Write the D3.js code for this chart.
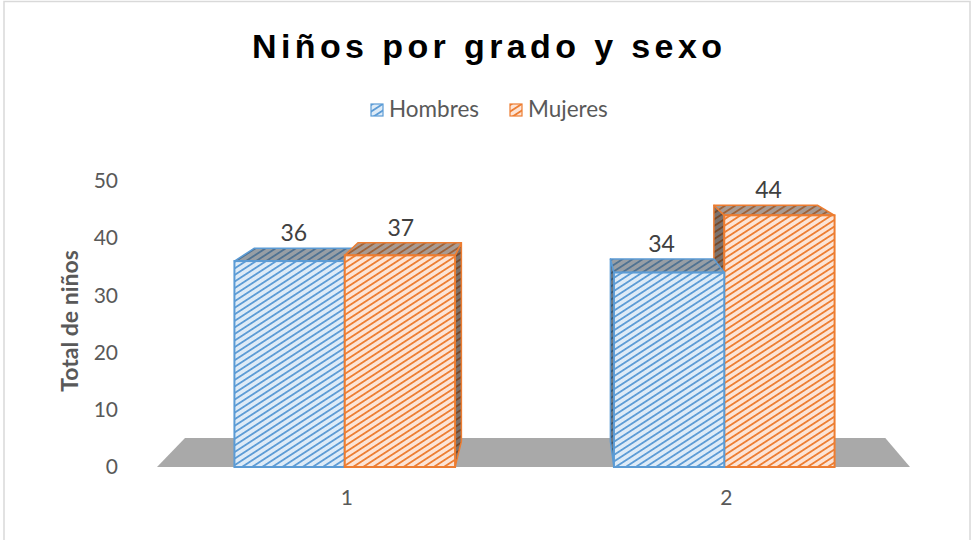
<!DOCTYPE html>
<html>
<head>
<meta charset="utf-8">
<script src="https://cdn.jsdelivr.net/npm/d3@7"></script>
<style>
  body { margin: 0; background: #fff; }
  svg { display: block; }
</style>
</head>
<body>
<script>
// chart values
var categories = ["1", "2"];
var series = ["Hombres", "Mujeres"];
var hombres = [36, 34];
var mujeres = [37, 44];
var yTicks = [0, 10, 20, 30, 40, 50];

var width = 972, height = 540;
var colors = { Hombres: "#5b9bd5", Mujeres: "#ed7d31" };
var lightColors = { Hombres: "#deebf7", Mujeres: "#fce4d6" };

// perspective: vanishing point and how far the back plane shrinks toward it
var vp = [557, 53];
var floorScale = 0.93, barScale = 0.938;

function proj(p, s) {
    return [vp[0] + s * (p[0] - vp[0]), vp[1] + s * (p[1] - vp[1])];
}

var svg = d3.select("body").append("svg")
    .attr("width", width)
    .attr("height", height);

// patterns for the hatched bars
var defs = svg.append("defs");
series.forEach(function(name) {
    var pat = defs.append("pattern")
        .attr("id", "hatch-" + name)
        .attr("patternUnits", "userSpaceOnUse")
        .attr("width", 6).attr("height", 5.5)
        .attr("patternTransform", "rotate(-33)");
    pat.append("rect").attr("width", 6).attr("height", 5.5).attr("fill", lightColors[name]);
    pat.append("rect").attr("y", 0).attr("width", 6).attr("height", 1.8).attr("fill", colors[name]);
});

// chart border
svg.append("rect")
    .attr("x", 4).attr("y", 1.5)
    .attr("width", 966).attr("height", 545)
    .attr("fill", "none").attr("stroke", "#d9d9d9").attr("stroke-width", 1.5);

// scales
var y = d3.scaleLinear().domain([0, 50]).range([467, 181]);
var x0 = d3.scaleBand().domain(categories).range([155, 914]);
var x1 = d3.scaleBand().domain(series).range([0, x0.bandwidth()]).paddingOuter(0.72);

// title
svg.append("text")
    .attr("x", 252).attr("y", 58)
    .attr("textLength", 470).attr("lengthAdjust", "spacing")
    .style("font-family", "'Liberation Sans', Arial, sans-serif")
    .style("font-weight", "bold").style("font-size", "34px")
    .attr("fill", "#000")
    .text("Niños por grado y sexo");

// legend
var legendX = { Hombres: 371, Mujeres: 510 };
series.forEach(function(name) {
    var g = svg.append("g").attr("transform", "translate(" + legendX[name] + ",104)");
    g.append("rect").attr("width", 12).attr("height", 12)
        .attr("fill", "url(#hatch-" + name + ")")
        .attr("stroke", colors[name]).attr("stroke-width", 1.2);
    g.append("text").attr("x", 18).attr("y", 13)
        .style("font-family", "Lato, 'Open Sans', sans-serif").style("font-size", "22.5px")
        .attr("fill", "#595959")
        .text(name);
});

// floor
var floorFront = [[157, y(0)], [910, y(0)]];
var floorPts = [floorFront[0], floorFront[1], proj(floorFront[1], floorScale), proj(floorFront[0], floorScale)];
svg.append("polygon")
    .attr("points", floorPts.map(function(p) { return p.join(","); }).join(" "))
    .attr("fill", "#a9a9a9");

// y axis
var yAxis = svg.append("g")
    .attr("transform", "translate(122,0)")
    .call(d3.axisLeft(y).tickValues(yTicks).tickSize(0).tickPadding(4));
yAxis.select(".domain").remove();
yAxis.selectAll("text")
    .style("font-family", "Lato, 'Open Sans', sans-serif").style("font-size", "21px")
    .attr("fill", "#595959");

svg.append("text")
    .attr("transform", "translate(78,321) rotate(-90)")
    .attr("text-anchor", "middle")
    .style("font-family", "Lato, 'Open Sans', sans-serif")
    .style("font-weight", "bold").style("font-size", "23px")
    .attr("fill", "#595959")
    .text("Total de niños");

// x axis
var xAxis = svg.append("g")
    .attr("transform", "translate(2,482)")
    .call(d3.axisBottom(x0).tickSize(0).tickPadding(8));
xAxis.select(".domain").remove();
xAxis.selectAll("text")
    .style("font-family", "Lato, 'Open Sans', sans-serif").style("font-size", "21px")
    .attr("fill", "#595959");

// build the bars
var bars = [];
categories.forEach(function(c, i) {
    [hombres[i], mujeres[i]].forEach(function(v, j) {
        var name = series[j];
        var xl = x0(c) + x1(name), xr = xl + x1.bandwidth();
        bars.push({ name: name, value: v, xl: xl, xr: xr, top: y(v), bottom: y(0) });
    });
});

// paint the bars farthest from the vanishing point first
bars.sort(function(a, b) {
    return Math.abs((b.xl + b.xr) / 2 - vp[0]) - Math.abs((a.xl + a.xr) / 2 - vp[0]);
});

function pts(arr) { return arr.map(function(p) { return p.join(","); }).join(" "); }

var barLayer = svg.append("g");
bars.forEach(function(d) {
    var g = barLayer.append("g");
    var fill = "url(#hatch-" + d.name + ")";
    var stroke = colors[d.name];
    var ftl = [d.xl, d.top], ftr = [d.xr, d.top], fbl = [d.xl, d.bottom], fbr = [d.xr, d.bottom];

    // side face
    var side = null;
    if (d.xr < vp[0]) side = [ftr, fbr, proj(fbr, barScale), proj(ftr, barScale)];
    else if (d.xl > vp[0]) side = [ftl, fbl, proj(fbl, barScale), proj(ftl, barScale)];
    if (side) {
        g.append("polygon").attr("points", pts(side)).attr("fill", fill);
        g.append("polygon").attr("points", pts(side))
            .attr("fill", "#262626").attr("fill-opacity", 0.6)
            .attr("stroke", stroke).attr("stroke-width", 1.5).attr("stroke-linejoin", "round");
    }

    // top face
    var top = [ftl, ftr, proj(ftr, barScale), proj(ftl, barScale)];
    g.append("polygon").attr("points", pts(top)).attr("fill", fill);
    g.append("polygon").attr("points", pts(top))
        .attr("fill", "#404040").attr("fill-opacity", 0.45)
        .attr("stroke", stroke).attr("stroke-width", 1.5).attr("stroke-linejoin", "round");

    // front face
    g.append("rect")
        .attr("x", d.xl).attr("y", d.top)
        .attr("width", d.xr - d.xl).attr("height", d.bottom - d.top)
        .attr("fill", fill)
        .attr("stroke", stroke).attr("stroke-width", 2);
});

// value labels
bars.forEach(function(d) {
    var mid = [(d.xl + d.xr) / 2, d.top];
    var back = proj(mid, barScale);
    svg.append("text")
        .attr("x", (mid[0] + back[0]) / 2 - 4)
        .attr("y", back[1] - 7)
        .attr("text-anchor", "middle")
        .style("font-family", "Lato, 'Open Sans', sans-serif").style("font-size", "23px")
        .attr("fill", "#404040")
        .text(d.value);
});
</script>
</body>
</html>
